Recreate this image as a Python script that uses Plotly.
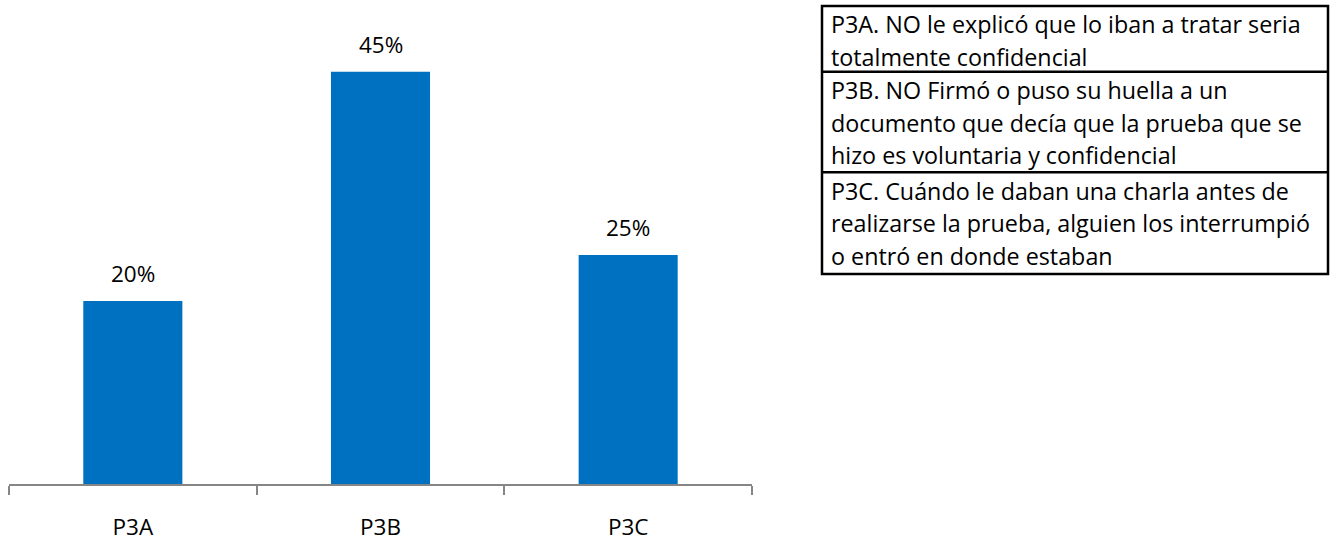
import plotly.graph_objects as go

categories = ["P3A", "P3B", "P3C"]
values = [0.20, 0.45, 0.25]
value_labels = ["20%", "45%", "25%"]

legend_rows = [
    ["P3A. NO le explicó que lo iban a tratar seria", "totalmente confidencial"],
    ["P3B. NO Firmó o puso su huella a un", "documento que decía que la prueba que se", "hizo es voluntaria y confidencial"],
    ["P3C. Cuándo le daban una charla antes de", "realizarse la prueba, alguien los interrumpió", "o entró en donde estaban"],
]

W, H = 1332, 542
FONT = "Open Sans"
FS = 23

fig = go.Figure()
fig.add_trace(go.Bar(x=categories, y=values, marker=dict(color="#0070C0", line=dict(width=0)),
                     hoverinfo="skip"))

annotations = []
for c, v, t in zip(categories, values, value_labels):
    annotations.append(dict(x=c, y=v, xref="x", yref="y", text=t, showarrow=False,
                            yanchor="bottom", yshift=10, font=dict(family=FONT, size=FS - 0.5, color="#000")))


def px(x):
    return x / W


def py(y):
    return 1 - y / H


box_left, box_right = 822, 1328
row_bounds = [6, 72, 173, 275]
line_h = 32.5
shapes = [dict(type="rect", xref="paper", yref="paper", x0=px(box_left), x1=px(box_right),
               y0=py(row_bounds[-1]), y1=py(row_bounds[0]), line=dict(color="#000", width=2.5))]
for yb in row_bounds[1:-1]:
    shapes.append(dict(type="line", xref="paper", yref="paper", x0=px(box_left), x1=px(box_right),
                       y0=py(yb), y1=py(yb), line=dict(color="#000", width=2.5)))

for i, lines in enumerate(legend_rows):
    top = row_bounds[i]
    for j, ln in enumerate(lines):
        yc = top + 18.5 + j * line_h
        annotations.append(dict(x=px(829), y=py(yc), xref="paper", yref="paper", text=ln,
                                showarrow=False, xanchor="left", yanchor="middle",
                                font=dict(family=FONT, size=23.3, color="#000")))

fig.update_layout(
    width=W, height=H,
    margin=dict(l=0, r=0, t=0, b=0),
    paper_bgcolor="white", plot_bgcolor="white",
    showlegend=False,
    bargap=0.6,
    annotations=annotations,
    shapes=shapes,
    xaxis=dict(domain=[px(9), px(752)], type="category", range=[-0.5, 2.5],
               showline=True, linecolor="#868686", linewidth=1.5,
               ticks="outside", tickson="boundaries", ticklen=9, tickcolor="#868686", tickwidth=1.5,
               showgrid=False, tickfont=dict(family=FONT, size=FS - 0.5, color="#000"),
               ticklabelstandoff=22),
    yaxis=dict(domain=[py(486), py(26)], range=[0, 0.5], visible=False, showgrid=False, zeroline=False),
)

fig.write_html("out.html", config={"displayModeBar": False},
               post_script="document.body.style.margin='0';document.body.style.overflow='hidden';")
